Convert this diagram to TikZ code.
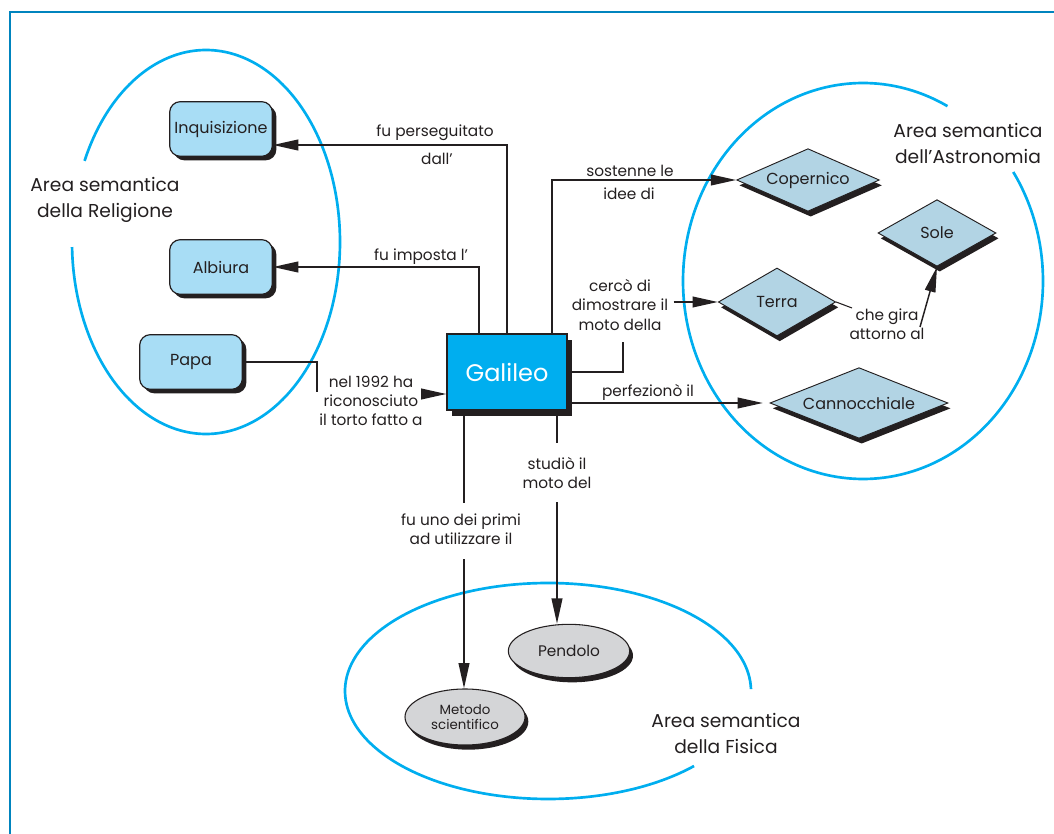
\documentclass[tikz,border=0pt]{standalone}
\usepackage{fontspec}
\setmainfont{Poppins}
\usetikzlibrary{arrows.meta,shapes.geometric,shadows}
\definecolor{areablue}{RGB}{0,174,239}
\definecolor{framecol}{RGB}{0,132,190}
\definecolor{boxblue}{RGB}{168,221,245}
\definecolor{galblue}{RGB}{0,174,239}
\definecolor{diablue}{RGB}{178,212,228}
\definecolor{ellgrey}{RGB}{212,213,215}
\definecolor{ink}{RGB}{35,31,32}
\tikzset{
  frameline/.style={draw=framecol,line width=1.7pt},
  area/.style={draw=areablue,line width=2pt},
  rbox/.style={draw=ink,line width=0.9pt,fill=boxblue,rounded corners=8pt,minimum width=77pt,minimum height=41pt,inner sep=1pt,font=\fontsize{12}{13}\selectfont,text=ink,drop shadow={shadow xshift=3pt,shadow yshift=-3pt,opacity=1,fill=ink}},
  galbox/.style={draw=ink,line width=0.9pt,fill=galblue,minimum width=90pt,minimum height=57pt,font=\fontsize{18}{20}\selectfont,text=white,drop shadow={shadow xshift=4pt,shadow yshift=-4.5pt,opacity=1,fill=ink}},
  dia/.style={diamond,aspect=2.5,inner sep=0pt,draw=ink,line width=0.7pt,fill=diablue,font=\fontsize{12}{13}\selectfont,text=ink,drop shadow={shadow xshift=2pt,shadow yshift=-4pt,opacity=1,fill=ink}},
  ell/.style={ellipse,inner sep=0pt,draw=ink,line width=0.8pt,fill=ellgrey,text=ink,align=center,drop shadow={shadow xshift=2.5pt,shadow yshift=-3.5pt,opacity=1,fill=ink}},
  lab/.style={font=\fontsize{11.5}{14.3}\selectfont,text=ink,align=center,inner sep=1pt},
  arealab/.style={font=\fontsize{14}{19.5}\selectfont,text=ink,align=center},
  line/.style={draw=ink,line width=1.4pt},
  conn/.style={line,-{Triangle[length=19pt,width=8pt]}},
}
\begin{document}
\begin{tikzpicture}[x=0.75pt,y=-0.75pt]
\useasboundingbox (0,0) rectangle (1054,834);
% frame
\draw[frameline] (10,834) -- (10,12) -- (1054,12);
% semantic areas
\draw[area] plot[domain=205:538.5,samples=150,smooth] ({206+134*cos(\x)},{242+192*sin(\x)});
\draw[area] plot[domain=326.6:658,samples=150,smooth] ({863+180*cos(\x)},{281+198*sin(\x)});
\draw[area] plot[domain=44:359,samples=150,smooth] ({548+203*cos(\x)},{691+108*sin(\x)});
\node[arealab] (arel) at (105,200) {Area semantica\\della Religione};
\node[arealab] (aast) at (968,143) {Area semantica\\dell’Astronomia};
\node[arealab] (afis) at (726,733) {Area semantica\\della Fisica};
% nodes
\node[rbox] (inq) at (221,129) {Inquisizione};
\node[rbox] (alb) at (221,267) {Albiura};
\node[rbox] (papa) at (191,362) {Papa};
\node[galbox] (gal) at (507,372) {Galileo};
\node[dia,minimum width=107pt,minimum height=47pt] (cop) at (808,180) {Copernico};
\node[dia,minimum width=88.5pt,minimum height=50pt] (sole) at (937,233) {Sole};
\node[dia,minimum width=88pt,minimum height=51pt] (terra) at (777,302) {Terra};
\node[dia,minimum width=133.5pt,minimum height=53pt] (cann) at (859,403) {Cannocchiale};
\node[ell,minimum width=91pt,minimum height=40pt,font=\fontsize{11.5}{13}\selectfont] (pend) at (569,651) {Pendolo};
\node[ell,minimum width=90pt,minimum height=42pt,font=\fontsize{10}{11.5}\selectfont] (met) at (465,717) {Metodo\\scientifico};
% labels
\node[lab] (l1a) at (435,133) {fu perseguitato};
\node[lab] (l1b) at (437,159) {dall’};
\node[lab] (l2) at (421,257) {fu imposta l’};
\node[lab] (l3) at (371,401) {nel 1992 ha\\riconosciuto\\il torto fatto a};
\node[lab] (l4a) at (630,171) {sostenne le};
\node[lab] (l4b) at (629,194) {idee di};
\node[lab] (l5) at (620,305) {cercò di\\dimostrare il\\moto della};
\node[lab] (l6) at (648,392) {perfezionò il};
\node[lab] (l7) at (887,324) {che gira\\attorno al};
\node[lab] (l8) at (557,473) {studiò il\\moto del};
\node[lab] (l9) at (461,529) {fu uno dei primi\\ad utilizzare il};
% helper coordinates
\coordinate (pk) at (317,392);
\coordinate (g3) at ([yshift=-16.5pt]gal.west);
\coordinate (tk) at (623,342);
\coordinate (g6) at ([yshift=-23.25pt]gal.east);
\coordinate (tg) at (852,308);
\coordinate (sa) at (920,327);
\coordinate (p8a) at (557,443);
\coordinate (p8b) at (557,502);
\coordinate (m9a) at (464,503);
\coordinate (m9b) at (464,559);
% connectors
\draw[conn] (gal.north) |- ([yshift=-12pt]inq.east);
\draw[conn] ([xshift=-21pt]gal.north) |- (alb.east);
\draw[line] (papa.east) -| (pk);
\draw[conn] (l3.east |- g3) -- (g3);
\draw[conn] ([xshift=33.75pt]gal.north) |- (cop.west);
\draw[line] (gal.east) -| (tk);
\draw[conn] ([xshift=3pt]l5.east |- terra.west) -- (terra.west);
\draw[conn,shorten >=5pt] (g6) -- (g6 -| cann.west);
\draw[line,line width=0.8pt] (terra.east) -- (tg);
\draw[conn,line width=1.1pt] (sa) -- (sole.south);
\draw[line] ([xshift=37.5pt]gal.south) -- (p8a);
\draw[conn] (p8b) -- (p8b |- pend.north);
\draw[line] ([xshift=-32.25pt]gal.south) -- (m9a);
\draw[conn] (m9b) -- (m9b |- met.north);
\end{tikzpicture}
\end{document}
